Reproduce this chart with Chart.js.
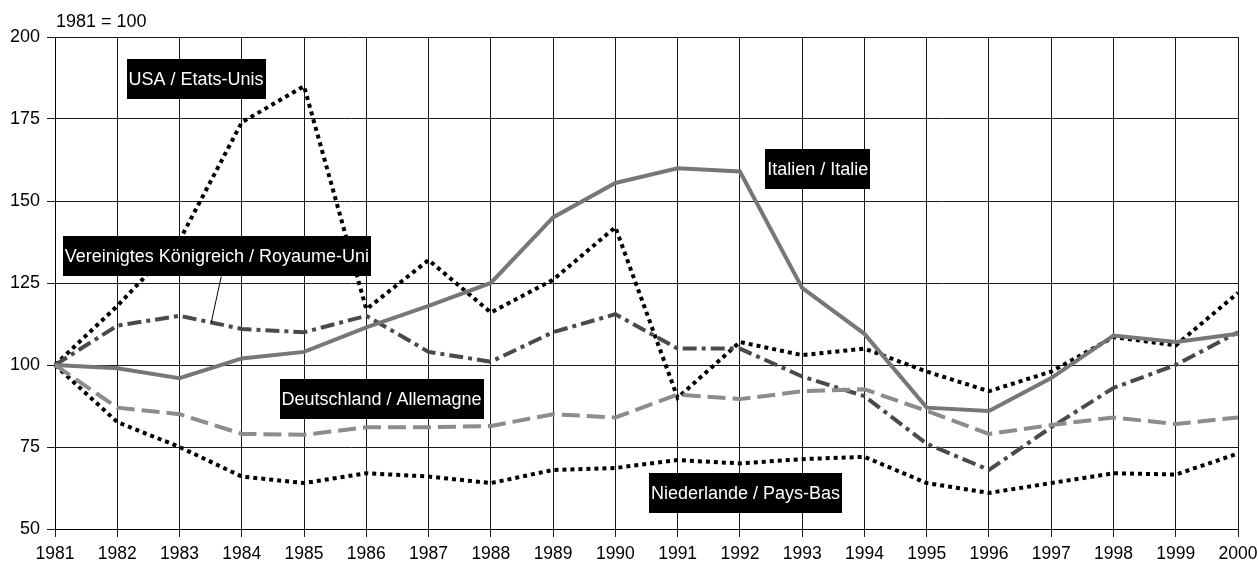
<!DOCTYPE html>
<html>
<head>
<meta charset="utf-8">
<script src="https://cdn.jsdelivr.net/npm/chart.js@4"></script>
<style>
  html, body { margin: 0; padding: 0; background: #fff; }
  #wrap { position: relative; width: 1258px; height: 563px; }
</style>
</head>
<body>
<div id="wrap"><canvas id="indexChart" width="1258" height="563"></canvas></div>
<script>
// années et séries (1981 = 100)
var years = ['1981', '1982', '1983', '1984', '1985', '1986', '1987', '1988', '1989', '1990',
             '1991', '1992', '1993', '1994', '1995', '1996', '1997', '1998', '1999', '2000'];
var usa = [100, 118, 138, 174, 185, 117, 132, 116, 126, 142, 90, 107, 103, 105, 98, 92, 98, 108.5, 106, 122];
var italie = [100, 99, 96, 102, 104, 111.5, 118, 125, 145, 155.5, 160, 159, 123.5, 109.5, 87, 86, 96, 109, 107, 109.5];
var royaumeUni = [100, 112, 115, 111, 110, 115, 104, 101, 110, 115.5, 105, 105, 96.5, 90.5, 76, 68, 81, 93, 100, 110];
var allemagne = [100, 87, 85, 79, 78.7, 81, 81, 81.4, 85, 84, 91, 89.6, 92, 92.6, 86, 79, 81.7, 84, 82, 84];
var paysBas = [100, 82.6, 75, 66, 64, 67, 66, 64, 68, 68.6, 71, 70, 71.3, 72, 64, 61, 64, 67, 66.6, 73];
var yTicks = [50, 75, 100, 125, 150, 175, 200];

// étiquettes noires : centre en (index année, valeur)
var etiquettes = [
  { texte: 'USA / Etats-Unis', x: 2.265, y: 187.2 },
  { texte: 'Italien / Italie', x: 12.25, y: 159.8 },
  { texte: 'Vereinigtes Königreich / Royaume-Uni', x: 2.6, y: 133.2, trait: [2.67, 127, 2.51, 113] },
  { texte: 'Deutschland / Allemagne', x: 5.245, y: 89.6 },
  { texte: 'Niederlande / Pays-Bas', x: 11.09, y: 61 }
];

var police = "'Liberation Sans', Arial, Helvetica, sans-serif";

function xPix(scale, v) {
  var i = Math.floor(v);
  if (i >= years.length - 1) i = years.length - 2;
  var a = scale.getPixelForTick(i), b = scale.getPixelForTick(i + 1);
  return a + (b - a) * (v - i);
}

var etiquettesPlugin = {
  id: 'etiquettes',
  afterDatasetsDraw: function(chart) {
    var ctx = chart.ctx;
    var xs = chart.scales.x, ys = chart.scales.y;
    ctx.save();
    ctx.font = '18px ' + police;
    etiquettes.forEach(function(e) {
      var cx = xPix(xs, e.x), cy = ys.getPixelForValue(e.y);
      if (e.trait) {
        ctx.strokeStyle = '#000';
        ctx.lineWidth = 1;
        ctx.beginPath();
        ctx.moveTo(xPix(xs, e.trait[0]), ys.getPixelForValue(e.trait[1]));
        ctx.lineTo(xPix(xs, e.trait[2]), ys.getPixelForValue(e.trait[3]));
        ctx.stroke();
      }
      var w = ctx.measureText(e.texte).width + 4;
      var h = 40;
      ctx.fillStyle = '#000';
      ctx.fillRect(Math.round(cx - w / 2), Math.round(cy - h / 2), Math.round(w), h);
      ctx.fillStyle = '#fff';
      ctx.textAlign = 'center';
      ctx.textBaseline = 'middle';
      ctx.fillText(e.texte, cx, cy + 1);
    });
    // unité en haut à gauche
    ctx.fillStyle = '#000';
    ctx.font = '18px ' + police;
    ctx.textAlign = 'left';
    ctx.textBaseline = 'middle';
    ctx.fillText('1981 = 100', 56, 22);
    ctx.restore();
  }
};

var ctx = document.getElementById('indexChart').getContext('2d');
var indexChart = new Chart(ctx, {
  type: 'line',
  data: {
    labels: years,
    datasets: [
      { label: 'Deutschland / Allemagne', data: allemagne, borderColor: '#8c8c8c', borderWidth: 4, borderDash: [18, 7] },
      { label: 'Italien / Italie', data: italie, borderColor: '#777777', borderWidth: 4 },
      { label: 'Vereinigtes Königreich / Royaume-Uni', data: royaumeUni, borderColor: '#4a4a4a', borderWidth: 4, borderDash: [14, 5, 4, 5] },
      { label: 'Niederlande / Pays-Bas', data: paysBas, borderColor: '#000', borderWidth: 4, borderDash: [4, 4] },
      { label: 'USA / Etats-Unis', data: usa, borderColor: '#000', borderWidth: 4, borderDash: [4, 4] }
    ]
  },
  options: {
    responsive: false,
    animation: false,
    elements: {
      point: { radius: 0 },
      line: { tension: 0, fill: false, borderCapStyle: 'butt' }
    },
    layout: { padding: { top: 37, right: 20, left: 0, bottom: 0 } },
    plugins: {
      legend: { display: false },
      tooltip: { enabled: false }
    },
    scales: {
      x: {
        offset: false,
        grid: { color: '#1a1a1a', lineWidth: 1, drawTicks: true, tickLength: 8 },
        border: { color: '#000', width: 1 },
        ticks: { color: '#000', font: { family: police, size: 17.5 }, padding: 7, maxRotation: 0, autoSkip: false },
        afterFit: function(scale) {
          scale.height = 34;
          scale.paddingLeft = 0;
          scale.paddingRight = 0;
        }
      },
      y: {
        min: 50,
        max: 200,
        afterBuildTicks: function(scale) {
          scale.ticks = yTicks.map(function(v) { return { value: v }; });
        },
        grid: { color: '#1a1a1a', lineWidth: 1, drawTicks: true, tickLength: 8 },
        border: { color: '#000', width: 1 },
        ticks: { color: '#000', font: { family: police, size: 18 }, padding: 7 },
        afterFit: function(scale) {
          scale.width = 55;
          scale.paddingTop = 0;
          scale.paddingBottom = 0;
        }
      }
    }
  },
  plugins: [etiquettesPlugin]
});
</script>
</body>
</html>
